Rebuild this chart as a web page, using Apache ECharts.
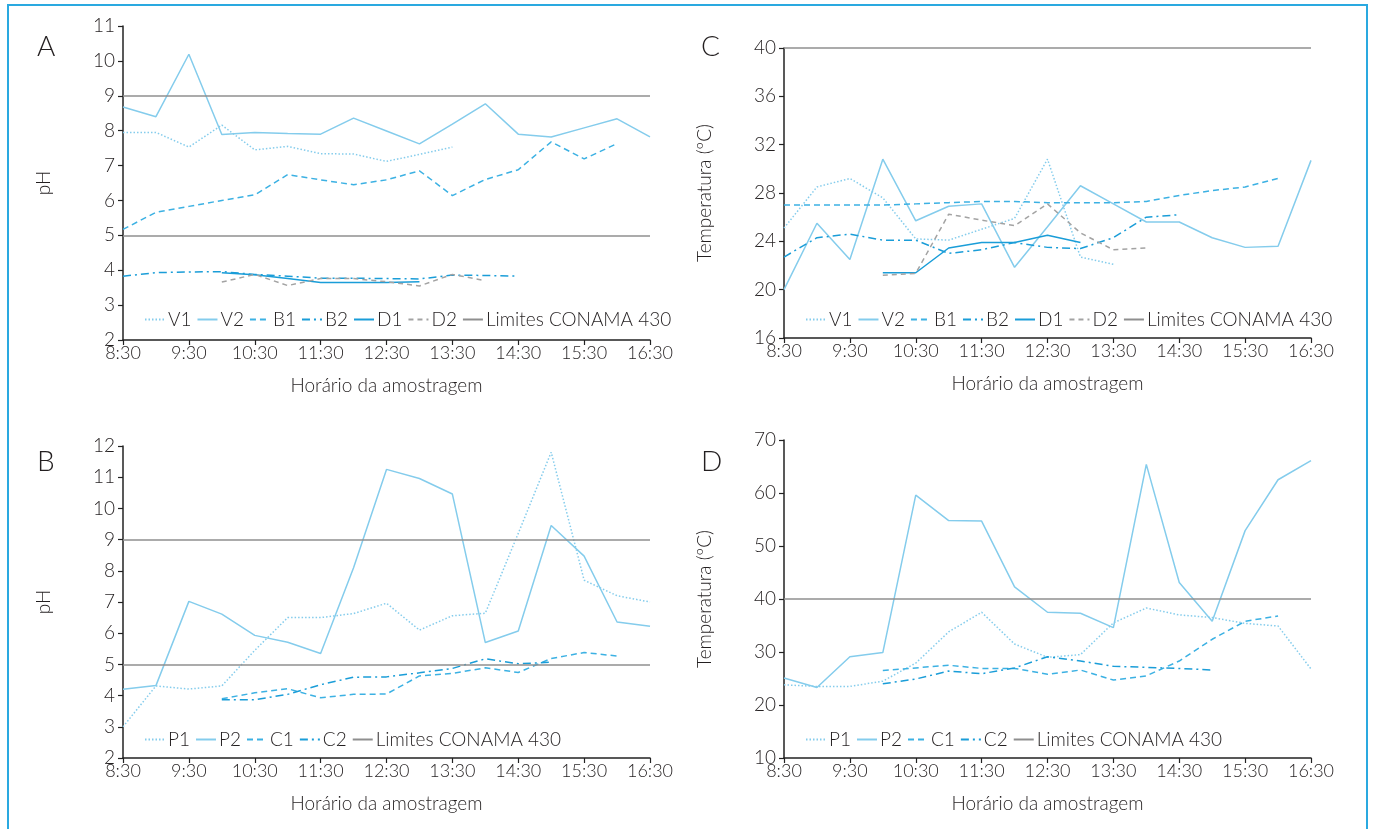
<!DOCTYPE html>
<html><head><meta charset="utf-8">
<script src="https://cdn.jsdelivr.net/npm/echarts@6/dist/echarts.min.js"></script>
<style>html,body{margin:0;padding:0;background:#fff}#c{width:1375px;height:829px}</style>
</head><body><div id="c"></div>
<script>
const times = ['8:30','9:00','9:30','10:00','10:30','11:00','11:30','12:00','12:30','13:00','13:30','14:00','14:30','15:00','15:30','16:00','16:30'];
const limitsPH = [5, 9];
const limitsTemp = [40];

// Panel A (pH)
const A_V1 = [7.95,7.95,7.53,8.16,7.45,7.55,7.34,7.33,7.12,7.32,7.53];
const A_V2 = [8.68,8.40,10.19,7.89,7.95,7.92,7.90,8.36,7.99,7.62,8.19,8.77,7.90,7.82,8.08,8.34,7.82];
const A_B1 = [5.17,5.66,5.83,6.00,6.16,6.74,6.59,6.45,6.59,6.85,6.14,6.60,6.88,7.68,7.19,7.63];
const A_B2 = [3.83,3.93,3.95,3.96,3.88,3.83,3.77,3.77,3.76,3.75,3.86,3.85,3.83];
const A_D1 = [null,null,null,3.93,3.87,3.76,3.65,3.65,3.65,3.67];
const A_D2 = [null,null,null,3.66,3.88,3.56,3.76,3.76,3.67,3.55,3.88,3.70];

// Panel C (temperature)
const C_V1 = [25.1,28.5,29.2,27.6,24.2,24.1,25.0,25.9,30.8,22.7,22.1];
const C_V2 = [20.0,25.5,22.5,30.8,25.7,26.9,27.1,21.85,25.2,28.6,27.1,25.6,25.6,24.3,23.5,23.6,30.7];
const C_B1 = [27.0,27.0,27.0,27.0,27.1,27.2,27.3,27.3,27.2,27.2,27.2,27.3,27.8,28.2,28.5,29.2];
const C_B2 = [22.7,24.3,24.6,24.1,24.1,23.0,23.3,23.9,23.5,23.4,24.3,26.0,26.2];
const C_D1 = [null,null,null,21.4,21.4,23.45,23.9,23.9,24.5,23.9];
const C_D2 = [null,null,null,21.2,21.35,26.25,25.75,25.3,27.1,24.7,23.3,23.45];

// Panel B (pH)
const B_P1 = [3.0,4.31,4.21,4.31,5.45,6.5,6.5,6.63,6.96,6.1,6.56,6.64,9.2,11.8,7.7,7.2,7.0];
const B_P2 = [4.2,4.32,7.02,6.61,5.93,5.71,5.35,8.1,11.25,10.96,10.46,5.7,6.07,9.45,8.47,6.36,6.22];
const B_C1 = [null,null,null,3.9,4.09,4.22,3.93,4.04,4.05,4.63,4.71,4.89,4.74,5.19,5.38,5.27];
const B_C2 = [null,null,null,3.87,3.87,4.04,4.35,4.59,4.6,4.73,4.87,5.18,5.02,5.07];

// Panel D (temperature)
const D_P1 = [23.8,23.5,23.5,24.5,27.9,33.8,37.5,31.5,29.0,29.5,35.5,38.3,37.0,36.5,35.4,34.9,26.8];
const D_P2 = [25.1,23.3,29.1,29.9,59.6,54.8,54.7,42.3,37.5,37.3,34.6,65.4,43.1,35.8,52.9,62.5,66.1];
const D_C1 = [null,null,null,26.5,27.0,27.5,26.9,26.9,25.8,26.6,24.7,25.5,28.3,32.4,35.8,36.8];
const D_C2 = [null,null,null,24.0,24.9,26.4,25.9,27.0,29.1,28.3,27.3,27.1,26.9,26.6];

const FONT = 'Lato';
const FW = 300;
const TXT = '#231f20';
const LIGHT = '#84ccec';
const MID = '#3cb1e3';
const DARK = '#1a9dd8';
const GREY = '#a3a3a3';
const LIMIT = '#8f8f8f';

const styles = {
  V1: {color: LIGHT, type: [1.5, 2]},
  V2: {color: LIGHT, type: 'solid'},
  B1: {color: MID, type: [6, 4]},
  B2: {color: DARK, type: [8, 4, 2, 4]},
  D1: {color: DARK, type: 'solid'},
  D2: {color: GREY, type: [5, 4]},
  P1: {color: LIGHT, type: [1.5, 2]},
  P2: {color: LIGHT, type: 'solid'},
  C1: {color: MID, type: [6, 4]},
  C2: {color: DARK, type: [8, 4, 2, 4]}
};

const grids = [
  {left: 123, top: 26, width: 527, height: 314},
  {left: 784, top: 48, width: 527, height: 290},
  {left: 123, top: 446, width: 527, height: 312},
  {left: 784, top: 440, width: 527, height: 318}
];
const yCfg = [
  {min: 2, max: 11, interval: 1, name: 'pH'},
  {min: 16, max: 40, interval: 4, name: 'Temperatura (ºC)'},
  {min: 2, max: 12, interval: 1, name: 'pH'},
  {min: 10, max: 70, interval: 10, name: 'Temperatura (ºC)'}
];

const xAxes = grids.map((g, i) => ({
  type: 'category', gridIndex: i, data: times, boundaryGap: false,
  name: 'Horário da amostragem', nameLocation: 'middle', nameGap: 36,
  nameTextStyle: {fontFamily: FONT, fontWeight: FW, fontSize: 19, color: TXT},
  axisLine: {lineStyle: {color: '#222', width: 1.5}},
  axisTick: {interval: 1, length: 5, lineStyle: {color: '#222', width: 1.2}},
  axisLabel: {interval: 1, fontFamily: FONT, fontWeight: FW, fontSize: 18, color: TXT, margin: 4},
  splitLine: {show: false}
}));
const yAxes = yCfg.map((c, i) => ({
  type: 'value', gridIndex: i, min: c.min, max: c.max, interval: c.interval,
  name: c.name, nameLocation: 'middle', nameGap: 70, nameRotate: 90,
  nameTextStyle: {fontFamily: FONT, fontWeight: FW, fontSize: 19, color: TXT},
  axisLine: {show: true, lineStyle: {color: '#222', width: 1.5}},
  axisTick: {show: true, length: 5, lineStyle: {color: '#222', width: 1.2}},
  axisLabel: {fontFamily: FONT, fontWeight: FW, fontSize: 19, color: TXT, margin: 8},
  splitLine: {show: false}
}));

const series = [];
function addLine(name, data, gi) {
  const s = styles[name];
  series.push({
    name, type: 'line', xAxisIndex: gi, yAxisIndex: gi, data,
    symbol: 'none', showSymbol: false, connectNulls: false, animation: false,
    color: s.color,
    lineStyle: {color: s.color, width: 1.5, type: s.type},
    itemStyle: {color: s.color}
  });
}
function addLimit(vals, gi) {
  series.push({
    name: 'Limites CONAMA 430', type: 'line', xAxisIndex: gi, yAxisIndex: gi, data: [],
    symbol: 'none', animation: false, color: LIMIT,
    lineStyle: {color: LIMIT, width: 1.5},
    itemStyle: {color: LIMIT},
    markLine: {silent: true, symbol: 'none', label: {show: false}, animation: false,
      lineStyle: {color: LIMIT, width: 1.5, type: 'solid'},
      data: vals.map(v => ({yAxis: v}))}
  });
}
addLine('V1', A_V1, 0); addLine('V2', A_V2, 0); addLine('B1', A_B1, 0); addLine('B2', A_B2, 0); addLine('D1', A_D1, 0); addLine('D2', A_D2, 0); addLimit(limitsPH, 0);
addLine('V1', C_V1, 1); addLine('V2', C_V2, 1); addLine('B1', C_B1, 1); addLine('B2', C_B2, 1); addLine('D1', C_D1, 1); addLine('D2', C_D2, 1); addLimit(limitsTemp, 1);
addLine('P1', B_P1, 2); addLine('P2', B_P2, 2); addLine('C1', B_C1, 2); addLine('C2', B_C2, 2); addLimit(limitsPH, 2);
addLine('P1', D_P1, 3); addLine('P2', D_P2, 3); addLine('C1', D_C1, 3); addLine('C2', D_C2, 3); addLimit(limitsTemp, 3);

const legA = ['V1','V2','B1','B2','D1','D2','Limites CONAMA 430'];
const legB = ['P1','P2','C1','C2','Limites CONAMA 430'];
function legend(data, left, top) {
  return {data, left, top, orient: 'horizontal', itemWidth: 20, itemHeight: 12, itemGap: 5,
    selectedMode: false,
    itemStyle: {opacity: 0},
    textStyle: {fontFamily: FONT, fontWeight: FW, fontSize: 19, color: TXT, padding: [0, 0, 0, -2]}};
}

const labelStyle = {fontFamily: FONT, fontWeight: FW, fontSize: 28, fill: TXT};
const option = {
  animation: false,
  backgroundColor: '#fff',
  grid: grids,
  xAxis: xAxes,
  yAxis: yAxes,
  legend: [legend(legA, 139, 305), legend(legA, 800, 305), legend(legB, 139, 725), legend(legB, 800, 725)],
  series,
  graphic: [
    {type: 'rect', shape: {x: 8, y: 5, width: 1359, height: 840}, style: {fill: 'none', stroke: '#2aa9e0', lineWidth: 2}, silent: true},
    {type: 'text', left: 37, top: 33, style: Object.assign({text: 'A'}, labelStyle)},
    {type: 'text', left: 701, top: 33, style: Object.assign({text: 'C'}, labelStyle)},
    {type: 'text', left: 37, top: 448, style: Object.assign({text: 'B'}, labelStyle)},
    {type: 'text', left: 701, top: 448, style: Object.assign({text: 'D'}, labelStyle)}
  ]
};
const chart = echarts.init(document.getElementById('c'), null, {renderer: 'canvas'});
chart.setOption(option);
</script>
</body></html>
